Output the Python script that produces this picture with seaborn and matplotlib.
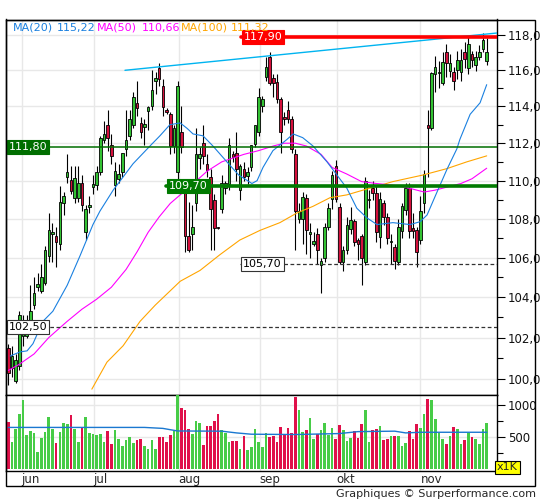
import numpy as np
import pandas as pd
import matplotlib
matplotlib.use('Agg')
import matplotlib.pyplot as plt
import seaborn as sns
from matplotlib.ticker import FixedLocator, NullFormatter
from matplotlib.patches import Rectangle

# daily candles (open, high, low, close)
opens = [101.5, 100.5, 99.9, 100.6, 102.1, 102.1, 102.7, 103.6, 104.5, 104.3,
         104.7, 106.1, 107.2, 107.1, 106.7, 108.8, 110.2, 110.05, 109.1, 109.1,
         109.9, 107.3, 108.6, 109.65, 109.75, 110.45, 112.2, 113.0, 111.9, 109.75,
         110.1, 110.45, 111.7, 112.4, 113.0, 114.2, 113.1, 112.9, 113.75, 114.0,
         115.4, 116.1, 115.1, 113.8, 113.6, 111.85, 110.45, 112.6, 109.4, 107.1,
         107.2, 108.8, 111.2, 112.0, 110.9, 110.2, 109.0, 107.55, 108.5, 109.6,
         109.8, 111.4, 111.5, 109.5, 110.6, 110.25, 110.75, 111.96, 112.6, 114.05,
         115.6, 116.75, 115.55, 115.35, 114.4, 113.4, 113.8, 113.3, 111.4, 108.0,
         108.0, 109.1, 107.2, 106.7, 107.2, 105.6, 106.0, 107.6, 109.05, 110.8,
         108.6, 105.8, 106.4, 107.45, 107.9, 106.9, 107.1, 105.8, 109.0, 109.6,
         109.35, 107.05, 108.8, 108.1, 106.8, 106.55, 105.8, 107.35, 108.45, 109.6,
         107.5, 107.4, 106.9, 108.8, 113.0, 112.8, 115.8, 115.85, 115.3, 117.0,
         115.95, 115.9, 116.0, 115.9, 117.0, 116.15, 116.9, 116.3, 116.75, 117.2,
         116.5]
highs = [101.7, 101.6, 101.2, 103.3, 103.1, 103.1, 104.6, 105.0, 105.2, 105.7,
         106.6, 108.3, 107.8, 107.6, 109.7, 109.4, 111.4, 110.8, 110.8, 110.8,
         110.3, 108.7, 109.2, 110.3, 110.8, 112.4, 113.2, 113.8, 112.5, 111.0,
         110.9, 111.5, 113.8, 113.8, 114.8, 115.4, 113.4, 113.3, 114.0, 116.0,
         115.9, 116.4, 115.5, 113.9, 113.7, 113.0, 115.4, 114.0, 110.0, 108.9,
         108.7, 112.8, 111.8, 113.0, 111.4, 110.6, 109.3, 107.6, 110.3, 110.0,
         112.3, 111.6, 112.6, 110.9, 111.0, 110.7, 111.9, 113.0, 115.0, 114.6,
         116.75, 117.0, 115.8, 115.8, 114.5, 113.7, 114.3, 113.5, 111.7, 108.8,
         109.4, 109.3, 107.8, 107.3, 107.5, 106.0, 107.8, 108.8, 110.5, 111.1,
         108.8, 106.6, 108.1, 108.6, 108.0, 107.0, 107.2, 110.2, 109.5, 110.0,
         109.7, 109.4, 109.0, 108.3, 107.2, 106.7, 108.0, 108.8, 109.9, 109.9,
         108.3, 107.6, 109.2, 110.55, 113.8, 115.9, 116.8, 116.5, 117.0, 117.5,
         116.9, 116.2, 117.1, 117.2, 117.6, 117.9, 117.1, 117.1, 117.4, 118.1,
         117.8]
lows = [99.7, 100.1, 99.8, 100.4, 101.6, 102.0, 102.5, 103.4, 104.3, 104.2,
        104.6, 105.8, 105.8, 105.5, 106.4, 108.2, 109.9, 109.3, 108.8, 108.9,
        108.4, 106.9, 108.3, 109.3, 109.5, 110.3, 112.0, 111.6, 110.9, 109.2,
        109.9, 110.2, 111.3, 112.2, 112.8, 113.5, 112.3, 111.9, 112.7, 113.8,
        114.7, 115.1, 113.5, 113.6, 111.4, 111.5, 110.1, 111.5, 106.3, 106.3,
        106.4, 108.4, 110.6, 110.9, 110.2, 106.4, 106.4, 107.45, 108.3, 109.3,
        109.5, 111.0, 110.0, 109.0, 110.0, 109.8, 110.5, 111.8, 112.4, 113.7,
        115.4, 115.2, 114.5, 114.2, 111.5, 113.0, 113.1, 111.5, 106.4, 107.8,
        106.7, 106.2, 106.0, 106.6, 105.7, 104.2, 105.8, 107.4, 108.5, 108.9,
        105.7, 105.3, 106.2, 107.2, 106.6, 105.9, 104.6, 105.6, 108.55, 109.0,
        106.8, 106.5, 107.7, 106.7, 105.7, 105.4, 105.6, 107.0, 108.2, 107.0,
        107.0, 105.5, 106.7, 108.3, 110.2, 112.7, 114.8, 115.0, 115.2, 115.6,
        115.6, 114.9, 115.5, 115.4, 116.1, 115.8, 116.2, 115.95, 116.6, 117.0,
        116.3]
closes = [100.3, 101.1, 100.9, 103.1, 102.4, 102.4, 103.3, 104.2, 104.65, 105.0,
          106.4, 107.4, 107.3, 106.8, 108.9, 109.2, 110.45, 109.45, 110.15, 109.9,
          108.7, 108.5, 108.7, 109.8, 110.45, 112.3, 112.5, 112.3, 111.3, 110.5,
          110.35, 111.5, 112.2, 113.3, 114.5, 113.9, 112.6, 113.05, 113.95, 114.9,
          115.55, 115.5, 113.95, 113.7, 111.85, 112.8, 115.1, 111.8, 107.1, 106.4,
          107.6, 111.4, 111.4, 111.3, 110.55, 108.5, 107.5, 107.5, 109.9, 109.9,
          111.9, 111.25, 110.6, 110.8, 110.2, 110.45, 111.9, 112.98, 114.5, 114.4,
          116.2, 115.3, 115.3, 114.4, 112.6, 113.3, 113.3, 111.7, 108.4, 108.4,
          109.15, 107.4, 107.3, 106.85, 106.4, 105.85, 107.6, 108.55, 110.3, 109.05,
          105.8, 106.4, 107.7, 107.95, 106.8, 106.7, 106.0, 110.0, 109.05, 109.35,
          107.3, 109.05, 108.1, 107.0, 106.85, 105.85, 107.6, 108.65, 109.6, 107.35,
          107.35, 106.3, 108.4, 110.35, 112.8, 115.85, 116.2, 115.9, 116.45, 116.4,
          116.4, 115.4, 116.6, 116.6, 116.65, 117.45, 116.6, 116.75, 117.05, 117.7,
          117.05]
volumes = [728, 429, 630, 852, 1080, 532, 592, 560, 266, 483,
           581, 809, 630, 402, 581, 717, 700, 836, 630, 418,
           646, 809, 565, 548, 538, 548, 429, 592, 386, 608,
           467, 364, 451, 494, 413, 451, 478, 364, 320, 451,
           320, 494, 494, 429, 527, 592, 1200, 956, 918, 630,
           548, 755, 722, 375, 673, 673, 744, 852, 603, 570,
           418, 440, 440, 320, 510, 293, 348, 619, 429, 353,
           560, 500, 521, 429, 662, 548, 646, 565, 1124, 918,
           576, 603, 798, 467, 554, 608, 722, 532, 646, 467,
           695, 614, 445, 483, 592, 483, 700, 918, 418, 614,
           630, 673, 451, 467, 516, 521, 521, 364, 413, 592,
           467, 700, 646, 852, 1097, 1075, 782, 565, 478, 386,
           510, 657, 619, 386, 451, 565, 494, 472, 386, 630,
           722]

# moving averages, sampled at trading-day index
ma20_idx = [0.5, 3.2, 5.1, 6.7, 9.4, 12.1, 16, 19.5, 23, 24.9, 28.5, 33.9, 38.5,
            41.2, 43.9, 46.7, 48.6, 50.2, 52.9, 55.6, 59.4, 62.6, 66.2, 67.6, 69.2,
            71.9, 75.7, 77.4, 80, 82.8, 86.6, 89.3, 92, 94.7, 97.5, 100.2, 104.5,
            109.2, 111.9, 113.8, 116.5, 119.2, 121.9, 122.7, 125.5, 128.2, 130]
ma20_val = [101.1, 101.3, 101.35, 101.7, 102.8, 103.3, 104.6, 106.1, 107.7, 108.4,
            109.5, 110.9, 111.85, 112.4, 113.0, 113.1, 112.8, 112.5, 112.4, 111.85,
            111.0, 110.3, 109.85, 110.0, 110.7, 111.6, 112.2, 112.5, 112.3, 111.85,
            111.0, 110.3, 109.6, 108.55, 108.04, 107.7, 107.8, 107.7, 107.85, 108.2,
            109.4, 110.6, 111.7, 112.2, 113.57, 114.2, 115.2]
ma50_idx = [0, 3, 7, 11, 16, 20, 24, 28, 32, 35, 38, 41, 44, 47, 50, 54, 58, 64,
            68, 72, 75, 78, 81, 85, 88, 92, 96, 100, 105, 109, 113, 116, 119, 123,
            126, 130]
ma50_val = [100.4, 100.7, 101.2, 102.0, 102.8, 103.4, 103.9, 104.5, 105.4, 106.3,
            107.3, 108.1, 108.8, 109.3, 109.8, 110.5, 111.0, 111.4, 111.6, 111.85,
            112.0, 112.0, 111.85, 111.4, 110.7, 110.35, 109.95, 109.85, 109.75, 109.6,
            109.4, 109.5, 109.65, 109.85, 110.1, 110.66]
ma100_idx = [22.7, 26.8, 31.2, 35.8, 39.9, 46.7, 52.1, 57.5, 62.9, 68.4, 73.8,
             78.4, 82.8, 87.4, 92, 96.4, 101, 104.5, 112.7, 119.2, 124.6, 130]
ma100_val = [99.5, 100.8, 101.6, 102.8, 103.6, 104.8, 105.35, 106.15, 106.9, 107.4,
             107.8, 108.3, 108.65, 109.1, 109.25, 109.5, 109.75, 109.95, 110.3,
             110.64, 111.0, 111.32]
volma_idx = [0, 37, 42, 46, 58, 62, 66, 78, 90, 95, 105, 108, 112, 130]
volma_val = [650, 650, 635, 595, 592, 565, 545, 540, 555, 585, 592, 565, 575, 575]

trend_idx = [31.7, 132.8]
trend_val = [116.0, 118.1]

levels = [117.90, 111.80, 109.70, 105.70, 102.50]
level_start = [63.2, -0.63, 42.9, 63.0, -0.63]

month_pos = [3.6, 23.2, 46.3, 68.3, 89.2, 112.0]
month_names = ['jun', 'jul', 'aug', 'sep', 'okt', 'nov']

legend_names = ['MA(20)', 'MA(50)', 'MA(100)']
legend_values = [115.22, 110.66, 111.32]

def fr(v, d=2):
    return f'{v:.{d}f}'.replace('.', ',')

sns.set_style('white')
plt.rcParams['font.family'] = ['DejaVu Sans']

GREEN = '#33c233'
RED = '#d4103c'
VGREEN = '#47cc47'
VRED = '#e0104a'
GRID = '#e8e8e8'

fig = plt.figure(figsize=(5.45, 5.0), dpi=100)
ax = fig.add_axes([6/545, 1 - 395/500, 491/545, 375.5/500])
axv = fig.add_axes([6/545, 1 - 470.5/500, 491/545, 75.5/500], sharex=ax)

df = pd.DataFrame({'open': opens, 'high': highs, 'low': lows,
                   'close': closes, 'volume': volumes})
df['x'] = np.arange(len(df))
df['up'] = df['close'] >= df['open']

# price panel
ax.set_yscale('log')
ax.set_xlim(-0.63, 132.8)
ax.set_ylim(99.22, 118.87)

ax.vlines(df['x'], df['low'], df['high'], color='black', lw=0.8, zorder=3)
bottoms = np.minimum(df['open'], df['close'])
heights = np.maximum(np.abs(df['close'] - df['open']), 0.03)
ax.bar(df['x'], heights, bottom=bottoms, width=0.7,
       color=np.where(df['up'], GREEN, RED), edgecolor='black', lw=0.6, zorder=4)

sns.lineplot(x=ma100_idx, y=ma100_val, ax=ax, color='#ffa500', lw=0.8, zorder=5)
sns.lineplot(x=ma50_idx, y=ma50_val, ax=ax, color='#ff00ff', lw=0.8, zorder=5)
sns.lineplot(x=ma20_idx, y=ma20_val, ax=ax, color='#1a80e0', lw=0.8, zorder=5)
sns.lineplot(x=trend_idx, y=trend_val, ax=ax, color='#00b4f0', lw=1.0, zorder=5)

xr = ax.get_xlim()[1]
level_styles = [
    dict(color='#ff0000', lw=2.6, ls='-', fc='#ff0000', tc='white', ec='#ff0000'),
    dict(color='#006e00', lw=1.1, ls='-', fc='#006e00', tc='white', ec='#006e00'),
    dict(color='#007a00', lw=2.6, ls='-', fc='#007a00', tc='white', ec='#007a00'),
    dict(color='#333333', lw=0.9, ls=(0, (3, 2)), fc='white', tc='black', ec='#333333'),
    dict(color='#333333', lw=0.9, ls=(0, (3, 2)), fc='white', tc='black', ec='#333333'),
]
for lv, x0, st in zip(levels, level_start, level_styles):
    ax.plot([x0, xr], [lv, lv], color=st['color'], lw=st['lw'], ls=st['ls'], zorder=6)
    ax.text(x0 + 0.75, lv, fr(lv), color=st['tc'], fontsize=8, va='center', ha='left',
            zorder=7, bbox=dict(boxstyle='square,pad=0.18', fc=st['fc'], ec=st['ec'], lw=0.8))

ax.yaxis.tick_right()
major = list(range(100, 119, 2))
ax.yaxis.set_major_locator(FixedLocator(major))
ax.set_yticklabels([fr(v, 1) for v in major])
ax.yaxis.set_minor_locator(FixedLocator(list(range(99, 119, 2))))
ax.yaxis.set_minor_formatter(NullFormatter())
ax.tick_params(axis='y', which='major', length=6, width=0.8, color='black',
               labelsize=8.5, pad=2, labelcolor='#111111')
ax.tick_params(axis='y', which='minor', length=4, width=0.8, color='black')
ax.set_xticks(month_pos)
ax.tick_params(axis='x', length=0, labelbottom=False)
ax.grid(True, which='major', color=GRID, lw=1)
ax.set_axisbelow(True)
ax.set_xlabel('')
ax.set_ylabel('')
for s in ax.spines.values():
    s.set_color('black')
    s.set_linewidth(1)

# volume panel
axv.bar(df['x'], df['volume'], width=0.72,
        color=np.where(df['up'], VGREEN, VRED), lw=0, zorder=3)
sns.lineplot(x=volma_idx, y=volma_val, ax=axv, color='#1a78d0', lw=1.0, zorder=4)
axv.set_ylim(-17, 1152)
axv.yaxis.tick_right()
axv.yaxis.set_major_locator(FixedLocator([500, 1000]))
axv.set_yticklabels(['500', '1000'])
axv.yaxis.set_minor_locator(FixedLocator([250, 750]))
axv.yaxis.set_minor_formatter(NullFormatter())
axv.tick_params(axis='y', which='major', length=6, width=0.8, color='black',
                labelsize=8.5, pad=2, labelcolor='#111111')
axv.tick_params(axis='y', which='minor', length=4, width=0.8, color='black')
axv.set_xticks(month_pos)
axv.set_xticklabels(month_names)
axv.tick_params(axis='x', length=0, labelsize=8.5, pad=2)
for lbl in axv.get_xticklabels():
    lbl.set_ha('left')
axv.grid(True, which='major', color=GRID, lw=1)
axv.set_axisbelow(True)
axv.set_xlabel('')
axv.set_ylabel('')
for s in axv.spines.values():
    s.set_color('black')
    s.set_linewidth(1)
axv.set_xlim(-0.63, 132.8)

# legend of moving averages
leg_colors = ['#1a80e0', '#ff00ff', '#ffa500']
leg_x = [(13, 57), (97, 142), (181, 231)]
for name, val, col, (xn, xv) in zip(legend_names, legend_values, leg_colors, leg_x):
    fig.text(xn / 545, 1 - 28 / 500, name, color=col, fontsize=8, va='center')
    fig.text(xv / 545, 1 - 28 / 500, fr(val), color=col, fontsize=8, va='center')

# outer frame, unit box, credit
fig.add_artist(Rectangle((6 / 545, 1 - 486 / 500), 529 / 545, 466.5 / 500,
                         transform=fig.transFigure, fill=False, ec='black', lw=1))
fig.text(507.5 / 545, 1 - 467.5 / 500, 'x1K', ha='center', va='center', fontsize=8,
         bbox=dict(boxstyle='square,pad=0.15', fc='#ffff00', ec='black', lw=0.8))
fig.text(536 / 545, 1 - 494 / 500, 'Graphiques © Surperformance.com',
         ha='right', va='center', fontsize=8)

fig.savefig('out.png', dpi=100)
